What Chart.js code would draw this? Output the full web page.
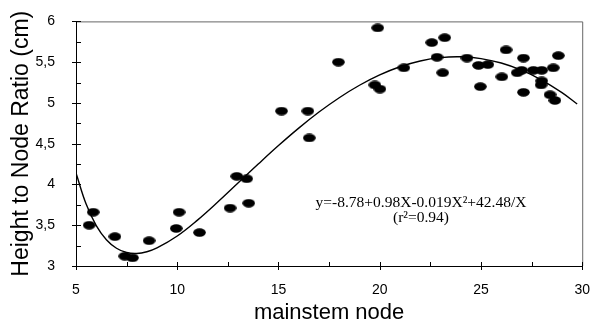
<!DOCTYPE html>
<html>
<head>
<meta charset="utf-8">
<script src="https://cdn.jsdelivr.net/npm/chart.js@4"></script>
<style>
  html, body { margin: 0; padding: 0; background: #fff; }
  #wrap { width: 598px; height: 326px; }
</style>
</head>
<body>
<div id="wrap"><canvas id="grafico" width="598" height="326"></canvas></div>
<script>
// measured points (mainstem node, height:node ratio)
var nodeX = [5.65, 5.85, 6.92, 7.41, 7.79, 8.61, 9.95, 10.09, 11.1, 12.61, 12.94, 13.43, 13.53,
    15.15, 16.45, 16.52, 17.96, 19.9, 19.76, 20.01, 21.19, 22.57, 23.21, 22.83, 23.11,
    24.31, 24.88, 25.34, 24.97, 26.24, 26.03, 27.1, 26.79, 27.01, 27.1, 27.59, 28.0,
    28.57, 28.82, 28.0, 27.97, 28.41, 28.65];
var ratioY = [3.5, 3.66, 3.36, 3.12, 3.1, 3.31, 3.46, 3.66, 3.41, 3.71, 4.1, 4.07, 3.77,
    4.9, 4.9, 4.57, 5.5, 5.92, 5.22, 5.17, 5.43, 5.74, 5.8, 5.56, 5.37,
    5.55, 5.46, 5.47, 5.2, 5.65, 5.32, 5.55, 5.37, 5.4, 5.13, 5.4, 5.4,
    5.43, 5.58, 5.27, 5.22, 5.1, 5.03];

// fitted curve
var curvaX = [5, 5.5, 6, 6.5, 7, 7.5, 8, 8.5, 9, 10, 11, 12, 13, 14, 15, 16, 17, 18, 19, 20,
    21, 22, 23, 24, 25, 26, 27, 28, 29, 29.75];
var curvaY = [4.141, 3.759, 3.496, 3.323, 3.218, 3.165, 3.154, 3.175, 3.221, 3.368, 3.563,
    3.784, 4.017, 4.25, 4.477, 4.691, 4.888, 5.064, 5.217, 5.344, 5.444, 5.515, 5.556,
    5.566, 5.544, 5.49, 5.402, 5.281, 5.126, 4.987];

var equacao = ['y=-8.78+0.98X-0.019X\u00b2+42.48/X', '(r\u00b2=0.94)'];

// elliptical marker
var marca = document.createElement('canvas');
marca.width = 13; marca.height = 9;
var mc = marca.getContext('2d');
mc.fillStyle = '#000';
mc.beginPath();
mc.ellipse(6.5, 4.5, 6.3, 4.2, 0, 0, Math.PI * 2);
mc.fill();

var pontos = nodeX.map(function (x, i) { return { x: x, y: ratioY[i] }; });
var curva = curvaX.map(function (x, i) { return { x: x, y: curvaY[i] }; });

var moldura = {
    id: 'moldura',
    afterDraw: function (chart) {
        var ctx = chart.ctx;
        var a = chart.chartArea;
        var sx = chart.scales.x, sy = chart.scales.y;
        ctx.save();
        ctx.lineWidth = 1;
        ctx.strokeStyle = '#666';
        ctx.beginPath();
        ctx.moveTo(a.left, a.top + 0.5); ctx.lineTo(a.right + 0.5, a.top + 0.5);
        ctx.lineTo(a.right + 0.5, a.bottom);
        ctx.stroke();
        ctx.strokeStyle = '#000';
        ctx.beginPath();
        ctx.moveTo(a.left + 0.5, a.top); ctx.lineTo(a.left + 0.5, a.bottom + 0.5);
        ctx.lineTo(a.right + 0.5, a.bottom + 0.5);
        // ticks
        sx.ticks.forEach(function (t) {
            var px = Math.round(sx.getPixelForValue(t.value)) + 0.5;
            var maior = Math.abs(t.value % 5) < 1e-6;
            ctx.moveTo(px, a.bottom - 4);
            ctx.lineTo(px, a.bottom + (maior ? 4 : 1));
        });
        sy.ticks.forEach(function (t) {
            var py = Math.round(sy.getPixelForValue(t.value)) + 0.5;
            var maior = Math.abs((t.value * 2) % 1) < 1e-6;
            ctx.moveTo(a.left - (maior ? 4 : 0), py);
            ctx.lineTo(a.left + 5, py);
        });
        ctx.stroke();
        // equation
        ctx.fillStyle = '#000';
        ctx.font = '15.5px "Liberation Serif", "Times New Roman", serif';
        ctx.textAlign = 'center';
        ctx.textBaseline = 'middle';
        ctx.fillText(equacao[0], 421, 203);
        ctx.fillText(equacao[1], 421, 218);
        ctx.restore();
    }
};

var ctx = document.getElementById('grafico').getContext('2d');
var grafico = new Chart(ctx, {
    type: 'scatter',
    data: {
        datasets: [{
            label: 'dados',
            data: pontos,
            pointStyle: marca,
            pointRadius: 6,
            pointHoverRadius: 6,
            backgroundColor: '#000',
            borderColor: '#000'
        }, {
            label: 'ajuste',
            data: curva,
            showLine: true,
            pointRadius: 0,
            borderColor: '#000',
            borderWidth: 1.4,
            tension: 0.4,
            fill: false
        }]
    },
    options: {
        responsive: false,
        animation: false,
        layout: { padding: { top: 17, right: 14, left: 0, bottom: 0 } },
        plugins: {
            legend: { display: false },
            tooltip: { enabled: false }
        },
        scales: {
            x: {
                type: 'linear',
                min: 5, max: 30,
                afterFit: function (s) { s.height = 60; },
                grid: { display: false },
                border: { display: false },
                ticks: {
                    stepSize: 2.5,
                    autoSkip: false,
                    maxRotation: 0,
                    padding: 8,
                    color: '#000',
                    font: { family: '"Liberation Sans", Arial, sans-serif', size: 14 },
                    callback: function (v) { return (v % 5 === 0) ? String(v) : ''; }
                },
                title: {
                    display: true,
                    text: 'mainstem node',
                    color: '#000',
                    font: { family: '"Liberation Sans", Arial, sans-serif', size: 22 },
                    padding: { top: 0, bottom: 0 }
                }
            },
            y: {
                type: 'linear',
                min: 3, max: 6,
                afterFit: function (s) { s.width = 76; },
                grid: { display: false },
                border: { display: false },
                ticks: {
                    stepSize: 0.25,
                    autoSkip: false,
                    padding: 13,
                    color: '#000',
                    font: { family: '"Liberation Sans", Arial, sans-serif', size: 14 },
                    callback: function (v) {
                        return (Math.abs((v * 2) % 1) < 1e-6) ? String(v).replace('.', ',') : '';
                    }
                },
                title: {
                    display: true,
                    text: 'Height to Node Ratio (cm)',
                    color: '#000',
                    font: { family: '"Liberation Sans", Arial, sans-serif', size: 23 },
                    padding: { top: 8, bottom: 0 }
                }
            }
        }
    },
    plugins: [moldura]
});
</script>
</body>
</html>
